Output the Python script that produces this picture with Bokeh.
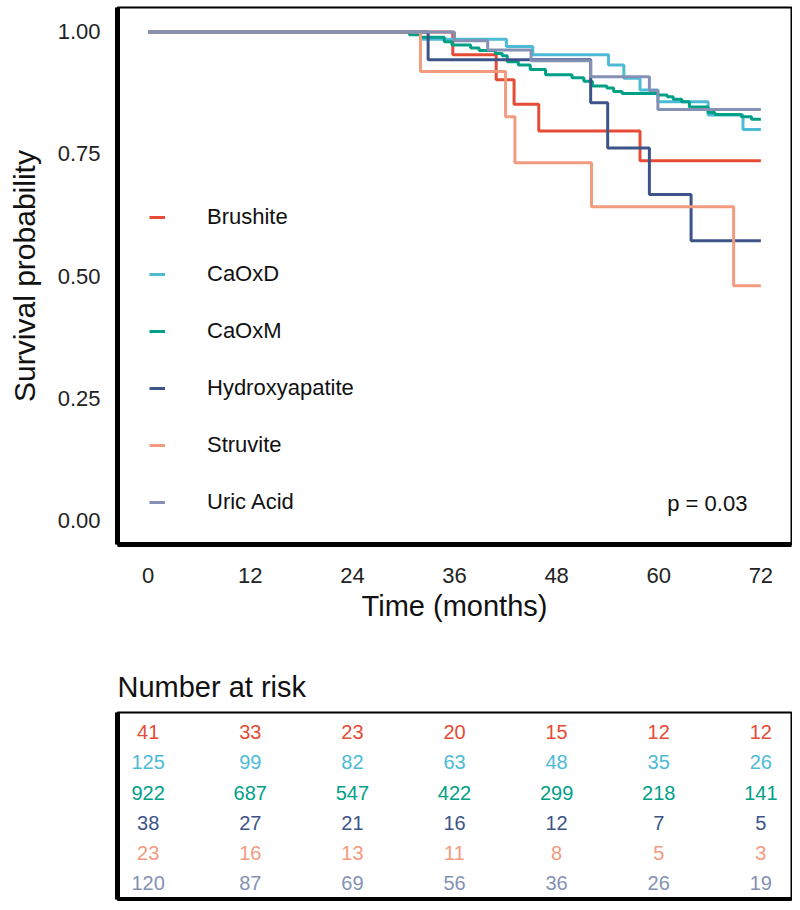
from bokeh.plotting import figure
from bokeh.models import Range1d, FixedTicker, Legend, LegendItem, Label, ColumnDataSource, NumeralTickFormatter
from bokeh.layouts import column
from bokeh.core.properties import value
from bokeh.embed import file_html
from bokeh.resources import INLINE

FONT = "Liberation Sans"

groups = ["Brushite", "CaOxD", "CaOxM", "Hydroxyapatite", "Struvite", "Uric Acid"]
colors = ["#E64B35", "#4DBBD5", "#00A087", "#3C5488", "#F39B7F", "#8491B4"]

# Kaplan-Meier step data (time in months, survival probability)
brushite_t = [0, 35.8, 40.9, 43.0, 45.9, 57.8, 72]
brushite_s = [1.0, 0.953, 0.902, 0.852, 0.797, 0.736, 0.736]

caoxd_t = [0, 32.0, 42.1, 45.2, 54.1, 55.9, 57.8, 59.9, 65.8, 69.9, 72]
caoxd_s = [1.0, 0.985, 0.970, 0.953, 0.932, 0.905, 0.881, 0.857, 0.830, 0.800, 0.800]

caoxm_t = [0, 30.7, 32.0, 34.8, 35.7, 37.9, 38.9, 40.8, 41.6, 42.2, 43.5, 44.9, 46.7,
           49.8, 51.2, 52.2, 53.9, 54.7, 55.7, 59.9, 61.0, 61.7, 62.7, 63.6, 65.8,
           66.6, 69.7, 70.9, 72]
caoxm_s = [1.0, 0.994, 0.989, 0.980, 0.973, 0.967, 0.962, 0.956, 0.951, 0.939, 0.932,
           0.923, 0.912, 0.906, 0.899, 0.889, 0.885, 0.878, 0.874, 0.871, 0.867, 0.862,
           0.857, 0.846, 0.835, 0.831, 0.826, 0.821, 0.821]

hydroxy_t = [0, 32.9, 52.0, 54.0, 58.9, 63.8, 72]
hydroxy_s = [1.0, 0.943, 0.855, 0.762, 0.667, 0.572, 0.572]

struvite_t = [0, 32.0, 42.0, 43.1, 52.1, 68.8, 72]
struvite_s = [1.0, 0.919, 0.826, 0.732, 0.642, 0.480, 0.480]

uric_t = [0, 36.0, 39.9, 45.0, 52.0, 58.9, 59.9, 72]
uric_s = [1.0, 0.982, 0.963, 0.941, 0.908, 0.880, 0.841, 0.841]

# number at risk
risk_times = [0, 12, 24, 36, 48, 60, 72]
risk_brushite = [41, 33, 23, 20, 15, 12, 12]
risk_caoxd = [125, 99, 82, 63, 48, 35, 26]
risk_caoxm = [922, 687, 547, 422, 299, 218, 141]
risk_hydroxy = [38, 27, 21, 16, 12, 7, 5]
risk_struvite = [23, 16, 13, 11, 8, 5, 3]
risk_uric = [120, 87, 69, 56, 36, 26, 19]

y_ticks = [0, 0.25, 0.5, 0.75, 1.0]
p_text = "p = 0.03"

series_t = [brushite_t, caoxd_t, caoxm_t, hydroxy_t, struvite_t, uric_t]
series_s = [brushite_s, caoxd_s, caoxm_s, hydroxy_s, struvite_s, uric_s]
risk_rows = [risk_brushite, risk_caoxd, risk_caoxm, risk_hydroxy, risk_struvite, risk_uric]

X_RANGE = (-3.6, 75.6)

p = figure(width=792, height=640, x_range=Range1d(*X_RANGE), y_range=Range1d(-0.05, 1.05),
           output_backend="svg", toolbar_location=None,
           min_border_left=117, min_border_right=1, min_border_top=7, min_border_bottom=96)
p.grid.visible = False
p.outline_line_color = "black"
p.outline_line_width = 2
p.background_fill_color = "white"

for ax in (p.xaxis, p.yaxis):
    ax.axis_line_width = 5
    ax.axis_line_color = "black"
    ax.major_tick_line_color = None
    ax.minor_tick_line_color = None
    ax.major_label_text_font = FONT
    ax.major_label_text_font_size = "22px"
    ax.major_label_text_color = "#222222"
    ax.axis_label_text_font = FONT
    ax.axis_label_text_font_size = "29px"
    ax.axis_label_text_font_style = "normal"
    ax.axis_label_text_color = "#111111"

p.yaxis.axis_label_text_font_size = "30px"
p.xaxis.ticker = FixedTicker(ticks=risk_times)
p.yaxis.ticker = FixedTicker(ticks=y_ticks)
p.yaxis.formatter = NumeralTickFormatter(format="0.00")
p.xaxis.major_label_standoff = 17
p.yaxis.major_label_standoff = 11
p.xaxis.axis_label = "Time (months)"
p.yaxis.axis_label = "Survival probability"
p.xaxis.axis_label_standoff = 4
p.yaxis.axis_label_standoff = 14

items = []
for g, c, tt, ss in zip(groups, colors, series_t, series_s):
    r = p.step(x=tt, y=ss, mode="after", line_width=3, line_color=c)
    items.append(LegendItem(label=g, renderers=[r]))

legend = Legend(items=items, location=(32, 29), orientation="vertical",
                glyph_width=16, glyph_height=26, label_height=26, spacing=31,
                label_standoff=42, padding=0, margin=0,
                border_line_color=None, background_fill_alpha=0,
                label_text_font=FONT, label_text_font_size="22px", label_text_color="#111111")
p.add_layout(legend)

p.add_layout(Label(x=61, y=0.034, text=p_text, text_baseline="middle",
                   text_font=FONT, text_font_size="22px", text_color="#111111"))

# risk table
t = figure(width=792, height=261, x_range=Range1d(*X_RANGE), y_range=Range1d(0.47, 6.65),
           output_backend="svg", toolbar_location=None,
           min_border_left=117, min_border_right=1, min_border_top=72, min_border_bottom=2)
t.grid.visible = False
t.outline_line_color = "black"
t.outline_line_width = 2
t.title.text = "Number at risk"
t.title.text_font = FONT
t.title.text_font_size = "29px"
t.title.text_font_style = "normal"
t.title.text_color = "#111111"
t.title.standoff = 19
t.title.offset = 0
for ax in (t.xaxis, t.yaxis):
    ax.ticker = FixedTicker(ticks=[])
    ax.axis_line_width = 5
    ax.axis_line_color = "black"
    ax.major_tick_line_color = None
    ax.minor_tick_line_color = None
    ax.major_tick_out = 0
    ax.major_label_standoff = 0
    ax.major_label_text_font_size = "0px"

xs, ys, txt, cols = [], [], [], []
n = len(risk_rows)
for i, (row, c) in enumerate(zip(risk_rows, colors)):
    for tm, v in zip(risk_times, row):
        xs.append(tm)
        ys.append(n - i)
        txt.append(str(v))
        cols.append(c)
src = ColumnDataSource(dict(x=xs, y=ys, txt=txt, color=cols))
t.text(x="x", y="y", text="txt", text_color="color", source=src,
       text_align="center", text_baseline="middle",
       text_font=value(FONT), text_font_size=value("20px"))

layout = column(p, t)
open("out.html", "w").write(file_html(layout, INLINE))
